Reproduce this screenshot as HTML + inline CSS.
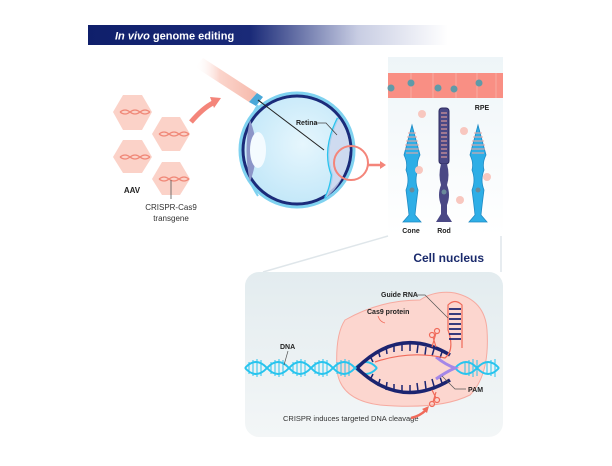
<!DOCTYPE html>
<html><head><meta charset="utf-8"><style>
html,body{margin:0;padding:0;background:#fff;width:612px;height:466px;overflow:hidden}
text{font-family:"Liberation Sans",sans-serif}
</style></head><body>
<svg width="612" height="466" viewBox="0 0 612 466" xmlns="http://www.w3.org/2000/svg">
<defs>
<linearGradient id="hdr" x1="0" x2="1"><stop offset="0" stop-color="#0f1f6b"/><stop offset="0.45" stop-color="#1a2a78"/><stop offset="0.75" stop-color="#c8cde3"/><stop offset="1" stop-color="#fff"/></linearGradient>
<linearGradient id="syr" x1="0" x2="1"><stop offset="0" stop-color="#fff" stop-opacity="0"/><stop offset="0.4" stop-color="#fbd5cc"/><stop offset="1" stop-color="#f6b9ab"/></linearGradient>
<linearGradient id="pan" x1="0" y1="0" x2="0" y2="1"><stop offset="0" stop-color="#e3ecef"/><stop offset="1" stop-color="#f3f6f7"/></linearGradient>
<linearGradient id="rp" x1="0" y1="0" x2="0" y2="1"><stop offset="0" stop-color="#eef5f8"/><stop offset="1" stop-color="#fff"/></linearGradient>
<radialGradient id="eyeg" cx="0.55" cy="0.45" r="0.6"><stop offset="0" stop-color="#e6f6fd"/><stop offset="1" stop-color="#bfe6f8"/></radialGradient>
</defs>
<!-- header -->
<rect x="88" y="25" width="360" height="20" fill="url(#hdr)"/>
<text x="115" y="39.5" font-size="11" font-weight="bold" fill="#fff"><tspan font-style="italic">In vivo</tspan> genome editing</text>

<!-- hexagons -->
<g fill="#fbd2c8">
<polygon points="113,112 123,95 142,95 152,112 142,130 123,130"/>
<polygon points="152,134 162,117 180,117 190,134 180,151 162,151"/>
<polygon points="113,157 123,140 142,140 152,157 142,173 123,173"/>
<polygon points="152,179 162,162 180,162 190,179 180,195 162,195"/>
</g>
<g stroke="#f08878" stroke-width="1.2" fill="none">
<path d="M120,112 q5,-4 10,0 t10,0 t10,0"/><path d="M120,112 q5,4 10,0 t10,0 t10,0"/>
<path d="M159,134 q5,-4 10,0 t10,0 t10,0"/><path d="M159,134 q5,4 10,0 t10,0 t10,0"/>
<path d="M120,157 q5,-4 10,0 t10,0 t10,0"/><path d="M120,157 q5,4 10,0 t10,0 t10,0"/>
<path d="M159,179 q5,-4 10,0 t10,0 t10,0"/><path d="M159,179 q5,4 10,0 t10,0 t10,0"/>
</g>
<line x1="171" y1="180" x2="171" y2="199" stroke="#555" stroke-width="0.8"/>
<text x="132" y="193" font-size="8" font-weight="bold" text-anchor="middle" fill="#222">AAV</text>
<text x="171" y="210" font-size="8" text-anchor="middle" fill="#333">CRISPR-Cas9</text>
<text x="171" y="221" font-size="8" text-anchor="middle" fill="#333">transgene</text>
<!-- curved arrow -->
<path d="M191,122 Q203,108 213,103" stroke="#f4857a" stroke-width="5" fill="none"/>
<polygon points="210,97 221,98 214,108" fill="#f4857a"/>

<!-- syringe -->
<polygon points="195,67 203,58 257,93 249,102" fill="url(#syr)"/>
<polygon points="249,102 257,93 263,97 256,106" fill="#4aa8d8"/>
<line x1="258" y1="100" x2="324" y2="150" stroke="#222" stroke-width="1"/>

<!-- eye -->
<path d="M258,105 Q228,150 258,196" fill="#d6f0fb" stroke="#7fd2f0" stroke-width="2"/>
<circle cx="297" cy="150" r="57" fill="url(#eyeg)" stroke="#7fd2f0" stroke-width="3"/>
<circle cx="297" cy="150" r="54" fill="none" stroke="#1b2b7a" stroke-width="3"/>
<path d="M250,120 Q262,150 250,182 Q243,150 250,120Z" fill="#8c95c8"/>
<ellipse cx="258" cy="150" rx="8" ry="18" fill="#f4fbff"/>
<path d="M338,118 Q322,150 332,175 Q330,190 325,198" fill="none" stroke="#28c4ee" stroke-width="2.5"/>
<path d="M338,118 Q322,150 332,175 Q330,190 325,198 Q345,185 350,150 Q348,130 338,118Z" fill="#cdd6ee" opacity="0.8"/>
<line x1="258" y1="100" x2="324" y2="150" stroke="#222" stroke-width="1"/>
<path d="M315,123 L326,123 L337,135" stroke="#444" stroke-width="0.8" fill="none"/>
<text x="296" y="125" font-size="7" font-weight="bold" fill="#222">Retina</text>
<circle cx="351" cy="163" r="17" fill="none" stroke="#f4857a" stroke-width="2"/>
<line x1="368" y1="165" x2="381" y2="165" stroke="#f4857a" stroke-width="2.5"/>
<polygon points="380,161 386,165 380,169" fill="#f4857a"/>

<!-- right panel -->
<rect x="388" y="57" width="115" height="178" fill="url(#rp)"/>
<rect x="388" y="73" width="115" height="25" fill="#f98f84"/>
<g stroke="#f7b3aa" stroke-width="0.8"><line x1="411" y1="73" x2="411" y2="98"/><line x1="433" y1="73" x2="433" y2="98"/><line x1="456" y1="73" x2="456" y2="98"/><line x1="477" y1="73" x2="477" y2="98"/><line x1="496" y1="73" x2="496" y2="98"/></g>
<g fill="#5f9aa8"><circle cx="391" cy="88" r="3.5"/><circle cx="411" cy="83" r="3.5"/><circle cx="438" cy="88" r="3.5"/><circle cx="454" cy="89" r="3.5"/><circle cx="479" cy="83" r="3.5"/></g>
<text x="482" y="110" font-size="7" font-weight="bold" fill="#222" text-anchor="middle">RPE</text>
<!-- cones -->
<g id="cone">
<path d="M412,125 L420,155 Q416,163 418,170 Q414,180 418,190 Q416,205 415,215 L421,222 L403,222 L409,215 Q408,205 406,190 Q410,180 406,170 Q408,163 404,155Z" fill="#2eaee6" stroke="#1d8ac4" stroke-width="0.8"/>
<g stroke="#f4a8a0" stroke-width="1"><line x1="408" y1="133" x2="416" y2="133"/><line x1="407" y1="137" x2="417" y2="137"/><line x1="406" y1="141" x2="418" y2="141"/><line x1="405" y1="145" x2="419" y2="145"/><line x1="405" y1="149" x2="419" y2="149"/><line x1="406" y1="153" x2="418" y2="153"/></g>
<circle cx="412" cy="190" r="2.5" fill="#6a8a9a"/>
</g>
<use href="#cone" transform="translate(66,0)"/>
<rect x="439" y="108" width="10" height="56" rx="3" fill="#4a4885" stroke="#2d2b60"/>
<g stroke="#f4a8a0" stroke-width="1"><line x1="441" y1="113" x2="447" y2="113"/><line x1="441" y1="117" x2="447" y2="117"/><line x1="441" y1="121" x2="447" y2="121"/><line x1="441" y1="125" x2="447" y2="125"/><line x1="441" y1="129" x2="447" y2="129"/><line x1="441" y1="133" x2="447" y2="133"/><line x1="441" y1="137" x2="447" y2="137"/><line x1="441" y1="141" x2="447" y2="141"/><line x1="441" y1="145" x2="447" y2="145"/><line x1="441" y1="149" x2="447" y2="149"/><line x1="441" y1="153" x2="447" y2="153"/><line x1="441" y1="157" x2="447" y2="157"/></g>
<path d="M441,164 L447,164 Q450,175 447,185 Q451,195 447,205 L447,214 L452,222 L436,222 L441,214 L441,205 Q437,195 441,185 Q438,175 441,164Z" fill="#4a4885"/>
<circle cx="444" cy="192" r="2.5" fill="#6a8a9a"/>
<g fill="#f8c7bf"><circle cx="422" cy="114" r="4"/><circle cx="464" cy="131" r="4"/><circle cx="419" cy="170" r="4"/><circle cx="487" cy="177" r="4"/><circle cx="460" cy="200" r="4"/></g>
<text x="411" y="233" font-size="7" font-weight="bold" fill="#222" text-anchor="middle">Cone</text>
<text x="444" y="233" font-size="7" font-weight="bold" fill="#222" text-anchor="middle">Rod</text>

<!-- zoom lines -->
<line x1="263" y1="272" x2="388" y2="236" stroke="#dfe6ea" stroke-width="1.5"/>
<line x1="501" y1="236" x2="501" y2="272" stroke="#dfe6ea" stroke-width="1.5"/>
<text x="484" y="262" font-size="12" font-weight="bold" fill="#1a2a6c" text-anchor="end">Cell nucleus</text>

<!-- bottom panel -->
<rect x="245" y="272" width="258" height="165" rx="14" fill="url(#pan)"/>
<path d="M345,320 Q380,300 420,300 Q435,290 455,293 Q485,300 487,330 Q490,375 470,395 Q440,410 380,405 Q340,400 337,370 Q335,335 345,320Z" fill="#fcd6cf" stroke="#f6aaa0" stroke-width="1"/>
<!-- DNA -->
<g stroke="#28c4ee" stroke-width="2" fill="none">
<path d="M245,368 q11,-12 22,0 t22,0 t22,0 t22,0 t22,0 t22,0"/>
<path d="M245,368 q11,12 22,0 t22,0 t22,0 t22,0 t22,0 t22,0"/>
<path d="M455,368 q11,-12 22,0 t22,0"/>
<path d="M455,368 q11,12 22,0 t22,0"/>
</g>
<g stroke="#28c4ee" stroke-width="1"><path d="M249,362v12M253,360v16M257,359v18M261,360v16M271,362v12M275,360v16M279,359v18M283,360v16M293,362v12M297,360v16M301,359v18M305,360v16M315,362v12M319,360v16M323,359v18M327,360v16M337,362v12M341,360v16M345,359v18M349,360v16M465,362v12M469,360v16M473,359v18M477,360v16M487,362v12M491,360v16M495,359v18"/></g>
<!-- bubble -->
<path d="M357,368 Q400,325 450,355" stroke="#1b2470" stroke-width="3.5" fill="none"/>
<path d="M357,368 Q400,410 450,380" stroke="#1b2470" stroke-width="3.5" fill="none"/>
<g stroke="#1b2470" stroke-width="1.5"><path d="M370,356l3,6M378,350l2,7M386,346l1,8M394,344l0,8M402,343l0,8M410,343l0,8M418,345l-1,8M426,347l-1,8M434,349l-2,7M442,352l-2,6"/><path d="M370,380l3,-6M378,386l2,-7M386,390l1,-8M394,392v-8M402,393v-8M410,393v-8M418,391l-1,-8M426,389l-1,-8M434,386l-2,-7M442,383l-2,-6"/></g>
<path d="M436,357 Q446,365 455,368 Q446,372 436,379" stroke="#a487e8" stroke-width="3" fill="none"/>
<path d="M375,362 Q410,350 445,358 Q455,350 448,330 L448,305 Q455,298 462,305 L462,348" stroke="#f06a5a" stroke-width="1.2" fill="none"/>
<g stroke="#1b2470" stroke-width="1.8"><path d="M449,309h12M449,314h12M449,319h12M449,324h12M449,329h12M449,334h12M449,339h12"/></g>
<!-- scissors -->
<g stroke="#f06a5a" stroke-width="1.2" fill="none"><circle cx="432" cy="335" r="2.5"/><circle cx="437" cy="331" r="2.5"/><path d="M433,337l3,10M436,333l-4,14"/>
<circle cx="432" cy="404" r="2.5"/><circle cx="437" cy="400" r="2.5"/><path d="M433,402l3,-10M436,398l-4,-8"/></g>
<!-- labels -->
<text x="381" y="297" font-size="7" font-weight="bold" fill="#222">Guide RNA</text>
<path d="M414,295 L425,295 L448,318" stroke="#555" stroke-width="0.7" fill="none"/>
<text x="367" y="314" font-size="7" font-weight="bold" fill="#222">Cas9 protein</text>
<path d="M378,316 Q380,322 385,323" stroke="#f06a5a" stroke-width="0.8" fill="none"/>
<text x="280" y="349" font-size="7" font-weight="bold" fill="#222">DNA</text>
<line x1="288" y1="351" x2="284" y2="365" stroke="#555" stroke-width="0.7"/>
<text x="468" y="392" font-size="7" font-weight="bold" fill="#222">PAM</text>
<path d="M442,376 L455,389 L466,389" stroke="#555" stroke-width="0.7" fill="none"/>
<text x="283" y="421" font-size="7.5" fill="#333">CRISPR induces targeted DNA cleavage</text>
<path d="M411,418 Q420,416 426,410" stroke="#f06a5a" stroke-width="2.5" fill="none"/>
<polygon points="422,409 429,406 427,413" fill="#f06a5a"/>
</svg>
</body></html>
